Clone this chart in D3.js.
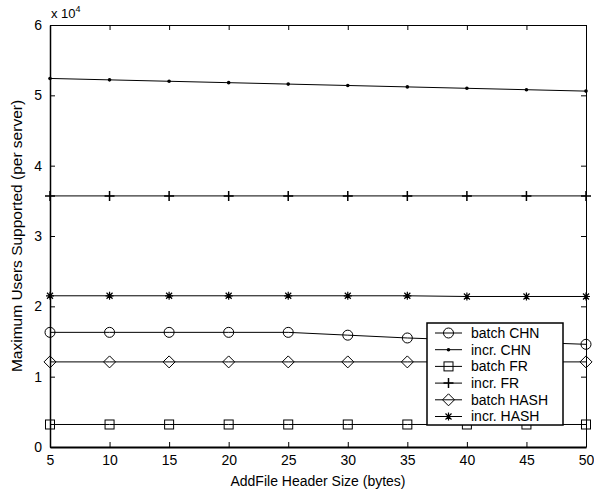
<!DOCTYPE html>
<html>
<head>
<meta charset="utf-8">
<script src="https://cdn.jsdelivr.net/npm/d3@7"></script>
<style>
  body { margin: 0; background: #fff; }
  text { font-family: "Liberation Sans", Arial, sans-serif; fill: #000; }
</style>
</head>
<body>
<div id="svg-area"></div>
<script>
// header sizes (bytes)
var headerSizes = [5, 10, 15, 20, 25, 30, 35, 40, 45, 50];

// users supported, in units of 10^4
var batchCHN = [1.63, 1.63, 1.63, 1.63, 1.63, 1.59, 1.55, 1.52, 1.49, 1.46];
var incrCHN = [5.24, 5.22, 5.20, 5.18, 5.16, 5.14, 5.12, 5.10, 5.08, 5.06];
var batchFR = [0.32, 0.32, 0.32, 0.32, 0.32, 0.32, 0.32, 0.32, 0.32, 0.32];
var incrFR = [3.57, 3.57, 3.57, 3.57, 3.57, 3.57, 3.57, 3.57, 3.57, 3.57];
var batchHASH = [1.21, 1.21, 1.21, 1.21, 1.21, 1.21, 1.21, 1.21, 1.21, 1.21];
var incrHASH = [2.15, 2.15, 2.15, 2.15, 2.15, 2.15, 2.15, 2.14, 2.14, 2.14];

var seriesNames = ["batch CHN", "incr. CHN", "batch FR", "incr. FR", "batch HASH", "incr. HASH"];
var seriesMarkers = ["circle", "dot", "square", "plus", "diamond", "star"];
var seriesValues = [batchCHN, incrCHN, batchFR, incrFR, batchHASH, incrHASH];

var xTicks = [5, 10, 15, 20, 25, 30, 35, 40, 45, 50];
var yTicks = [0, 1, 2, 3, 4, 5, 6];

var svgWidth = 594;
var svgHeight = 491;

var chartMargin = { top: 25, right: 8, bottom: 44, left: 50 };
var chartWidth = svgWidth - chartMargin.left - chartMargin.right;
var chartHeight = svgHeight - chartMargin.top - chartMargin.bottom;

var svg = d3.select("#svg-area")
  .append("svg")
  .attr("width", svgWidth)
  .attr("height", svgHeight);

var chartGroup = svg.append("g")
  .attr("transform", `translate(${chartMargin.left}, ${chartMargin.top})`);

var xScale = d3.scaleLinear().domain([5, 50]).range([0, chartWidth]);
var yScale = d3.scaleLinear().domain([0, 6]).range([chartHeight, 0]);

// axes, MATLAB style: ticks point inward, on all four sides
var bottomAxis = d3.axisBottom(xScale).tickValues(xTicks).tickSizeInner(-5).tickSizeOuter(0).tickPadding(8);
var leftAxis = d3.axisLeft(yScale).tickValues(yTicks).tickFormat(d3.format("d")).tickSizeInner(-5).tickSizeOuter(0).tickPadding(8);
var topAxis = d3.axisTop(xScale).tickValues(xTicks).tickSizeInner(-5).tickSizeOuter(0).tickFormat("");
var rightAxis = d3.axisRight(yScale).tickValues(yTicks).tickSizeInner(-5).tickSizeOuter(0).tickFormat("");

function styleAxis(g) {
  g.selectAll("path").attr("stroke", "#000").attr("stroke-width", 1);
  g.selectAll("line").attr("stroke", "#000");
  g.selectAll("text").style("font-size", "14px").attr("fill", "#000");
}

chartGroup.append("g").attr("transform", `translate(0, ${chartHeight})`).call(bottomAxis).call(styleAxis)
  .select("path").attr("stroke-width", 2);
chartGroup.append("g").call(leftAxis).call(styleAxis)
  .select("path").attr("stroke-width", 1.5);
chartGroup.append("g").call(topAxis).call(styleAxis);
chartGroup.append("g").attr("transform", `translate(${chartWidth}, 0)`).call(rightAxis).call(styleAxis);

// markers
function drawMarker(g, type) {
  if (type === "circle") {
    g.append("circle").attr("r", 5).attr("fill", "none").attr("stroke", "#000");
  } else if (type === "dot") {
    g.append("circle").attr("r", 1.8).attr("fill", "#000");
  } else if (type === "square") {
    g.append("rect").attr("x", -4.5).attr("y", -4.5).attr("width", 9).attr("height", 9)
      .attr("fill", "none").attr("stroke", "#000");
  } else if (type === "plus") {
    g.append("path").attr("d", "M-5,0H5M0,-5V5").attr("stroke", "#000").attr("stroke-width", 1.5);
  } else if (type === "diamond") {
    g.append("path").attr("d", "M0,-6L6,0L0,6L-6,0Z").attr("fill", "none").attr("stroke", "#000");
  } else if (type === "star") {
    g.append("path").attr("d", "M-4,0H4M0,-4V4M-3,-3L3,3M-3,3L3,-3").attr("stroke", "#000").attr("stroke-width", 1.2);
  }
}

var line = d3.line()
  .x((d, i) => xScale(headerSizes[i]))
  .y(d => yScale(d));

seriesValues.forEach(function(values, s) {
  chartGroup.append("path")
    .datum(values)
    .attr("d", line)
    .attr("fill", "none")
    .attr("stroke", "#000")
    .attr("stroke-width", 1);

  chartGroup.selectAll(".m" + s)
    .data(values)
    .enter()
    .append("g")
    .attr("class", "m" + s)
    .attr("transform", (d, i) => `translate(${xScale(headerSizes[i])}, ${yScale(d)})`)
    .each(function() { drawMarker(d3.select(this), seriesMarkers[s]); });
});

// legend
var legend = chartGroup.append("g")
  .attr("transform", `translate(${427 - chartMargin.left}, ${323 - chartMargin.top})`);

legend.append("rect")
  .attr("width", 136)
  .attr("height", 102)
  .attr("fill", "#fff")
  .attr("stroke", "#000")
  .attr("stroke-width", 1.5);

seriesNames.forEach(function(name, s) {
  var y = 10 + s * 16.7;
  var row = legend.append("g").attr("transform", `translate(0, ${y})`);
  row.append("line").attr("x1", 8).attr("x2", 35).attr("stroke", "#000");
  drawMarker(row.append("g").attr("transform", "translate(21.5, 0)"), seriesMarkers[s]);
  row.append("text")
    .attr("x", 44)
    .attr("dy", "0.35em")
    .style("font-size", "14px")
    .text(name);
});

// exponent label
var expLabel = svg.append("text")
  .attr("x", chartMargin.left + 1)
  .attr("y", 18)
  .style("font-size", "13px");
expLabel.append("tspan").text("x 10");
expLabel.append("tspan").attr("dy", -6).style("font-size", "9px").text("4");

// axis titles
svg.append("text")
  .attr("x", chartMargin.left + chartWidth / 2)
  .attr("y", 486)
  .attr("text-anchor", "middle")
  .style("font-size", "14px")
  .text("AddFile Header Size (bytes)");

svg.append("text")
  .attr("transform", "rotate(-90)")
  .attr("x", -236)
  .attr("y", 22)
  .attr("text-anchor", "middle")
  .style("font-size", "15.5px")
  .text("Maximum Users Supported (per server)");
</script>
</body>
</html>
